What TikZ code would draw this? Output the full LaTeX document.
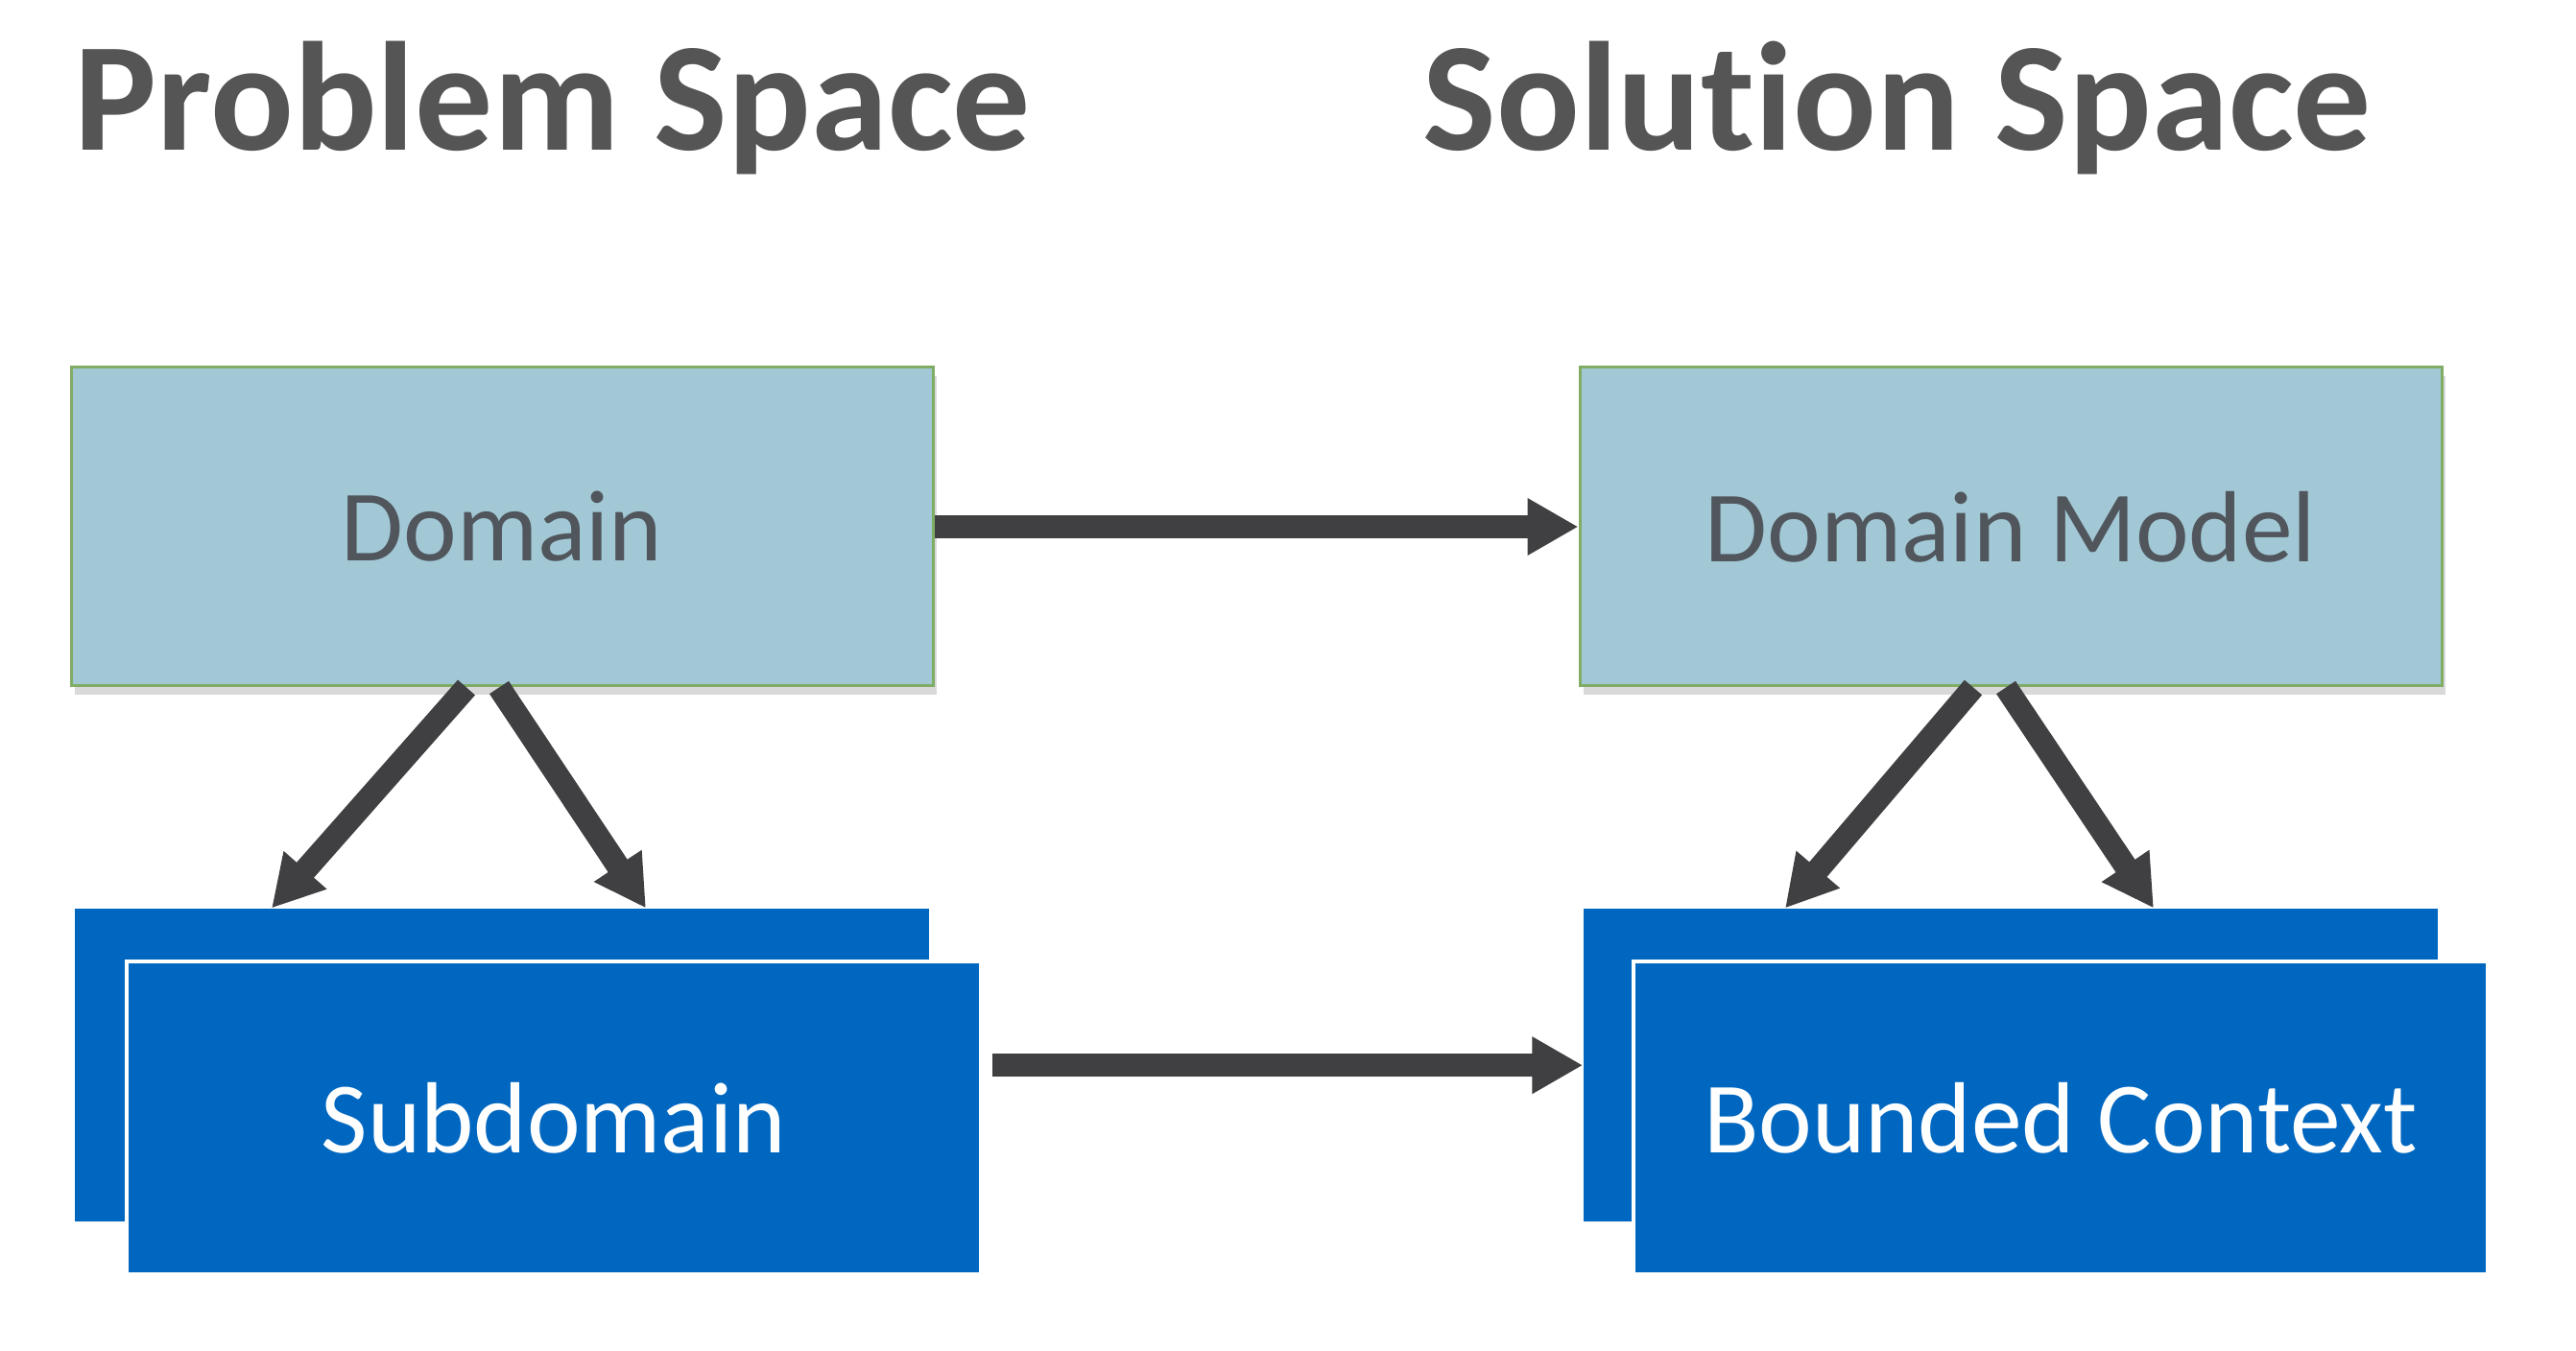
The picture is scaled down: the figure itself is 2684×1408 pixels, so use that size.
\documentclass[tikz,border=0pt]{standalone}
\usepackage{fontspec}
\setmainfont[Ligatures={NoCommon}]{Carlito}
\usepackage{tikz}
\usetikzlibrary{arrows.meta, positioning, shadows}

\definecolor{titlegray}{RGB}{85,85,85}
\definecolor{boxtext}{RGB}{80,86,92}
\definecolor{lightfill}{RGB}{162,200,214}
\definecolor{lightline}{RGB}{128,172,100}
\definecolor{darkfill}{RGB}{0,103,192}
\definecolor{arrowgray}{RGB}{64,64,66}

\begin{document}
\begin{tikzpicture}[x=0.1mm, y=-0.1mm,
    heading/.style = {anchor=base west, inner sep=0, text=titlegray, font=\bfseries\fontsize{46}{50}\selectfont},
    light/.style = {draw=lightline, line width=0.3mm, fill=lightfill, inner sep=0, minimum width=89.8mm, minimum height=33.2mm, text=boxtext, font=\fontsize{30}{34}\selectfont, drop shadow={shadow xshift=0.4mm, shadow yshift=-0.9mm, opacity=0.3}},
    dark/.style = {fill=darkfill, inner sep=0, minimum width=89mm, minimum height=32.6mm, text=white, font=\fontsize{30}{34}\selectfont},
    front/.style = {draw=white, line width=0.4mm},
    arr/.style = {draw=arrowgray, line width=2.4mm, -{Triangle[length=5.3mm, width=5.6mm]}}]
    \useasboundingbox (0,0) rectangle (2684,1408);

    \node[heading] (probtitle) at (77,157) {Problem Space};
    \node[heading] (soltitle) at (1482,157) {Solution Space};

    \node[light] (dom) at (523,549) {Domain};
    \node[light, right=67.1mm of dom] (dmodel) {Domain Model};

    \node[dark, below=23mm of dom] (subback) {};
    \node[dark, front] (subfront) at ([shift={(5.4mm,-5.5mm)}]subback) {Subdomain};
    \node[dark, below=23mm of dmodel] (bcback) {};
    \node[dark, front] (bcfront) at ([shift={(5.2mm,-5.5mm)}]bcback) {Bounded Context};

    \draw[arr] (dom.east) -- (dom.east -| dmodel.west);
    \draw[arr] ([xshift=1mm]subfront.east |- subback) -- (bcback.west);

    \draw[arr] ([xshift=-3.7mm]dom.south) -- ([xshift=-24mm]subback.north);
    \draw[arr] ([xshift=-0.3mm]dom.south) -- ([xshift=15mm]subback.north);
    \draw[arr] ([xshift=-3.9mm]dmodel.south) -- ([xshift=-23.5mm]bcback.north);
    \draw[arr] ([xshift=-0.5mm]dmodel.south) -- ([xshift=14.9mm]bcback.north);
\end{tikzpicture}
\end{document}
